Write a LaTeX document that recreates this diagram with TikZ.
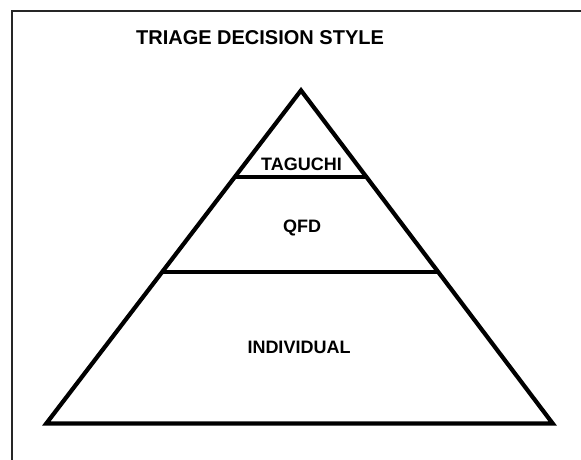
\documentclass[tikz,border=0pt]{standalone}
\usepackage{fontspec}
\setmainfont{Liberation Sans}
\usetikzlibrary{calc}
\begin{document}
\begin{tikzpicture}[x=1pt,y=-1pt,
  frameline/.style={line width=1.6pt,draw=black!85},
  pyramid/.style={line width=4.2pt,line join=miter},
  tierline/.style={line width=4pt},
  heading/.style={font=\fontsize{20}{24}\selectfont\bfseries,anchor=base,inner sep=0pt},
  tierlabel/.style={font=\fontsize{18}{21}\selectfont\bfseries,anchor=base,inner sep=0pt}]
  \useasboundingbox (0,0) rectangle (581,460);
  \begin{scope}
    \clip (0,0) rectangle (581,460);
    % outer frame, running off the right and bottom edges
    \draw[frameline] (12,11) rectangle (600,480);
  \end{scope}

  % pyramid outline
  \coordinate (apex) at (301,90.4);
  \coordinate (bl) at (46.3,423.5);
  \coordinate (br) at (552.7,423.5);
  \draw[pyramid] (apex) -- (bl) -- (br) -- cycle;

  % tier boundaries
  \coordinate (t1l) at ($(apex)!0.26!(bl)$);
  \coordinate (t1r) at ($(apex)!0.26!(br)$);
  \coordinate (t2l) at ($(apex)!0.545!(bl)$);
  \coordinate (t2r) at ($(apex)!0.545!(br)$);
  \draw[tierline] (t1l) -- (t1r);
  \draw[tierline] (t2l) -- (t2r);

  % texts
  \node[heading] (title) at (260,45) {TRIAGE DECISION STYLE};
  \node[tierlabel] (taguchi) at (301.5,170) {TAGUCHI};
  \node[tierlabel] (qfd) at (302,232) {QFD};
  \node[tierlabel] (individual) at (299,353) {INDIVIDUAL};
\end{tikzpicture}
\end{document}
